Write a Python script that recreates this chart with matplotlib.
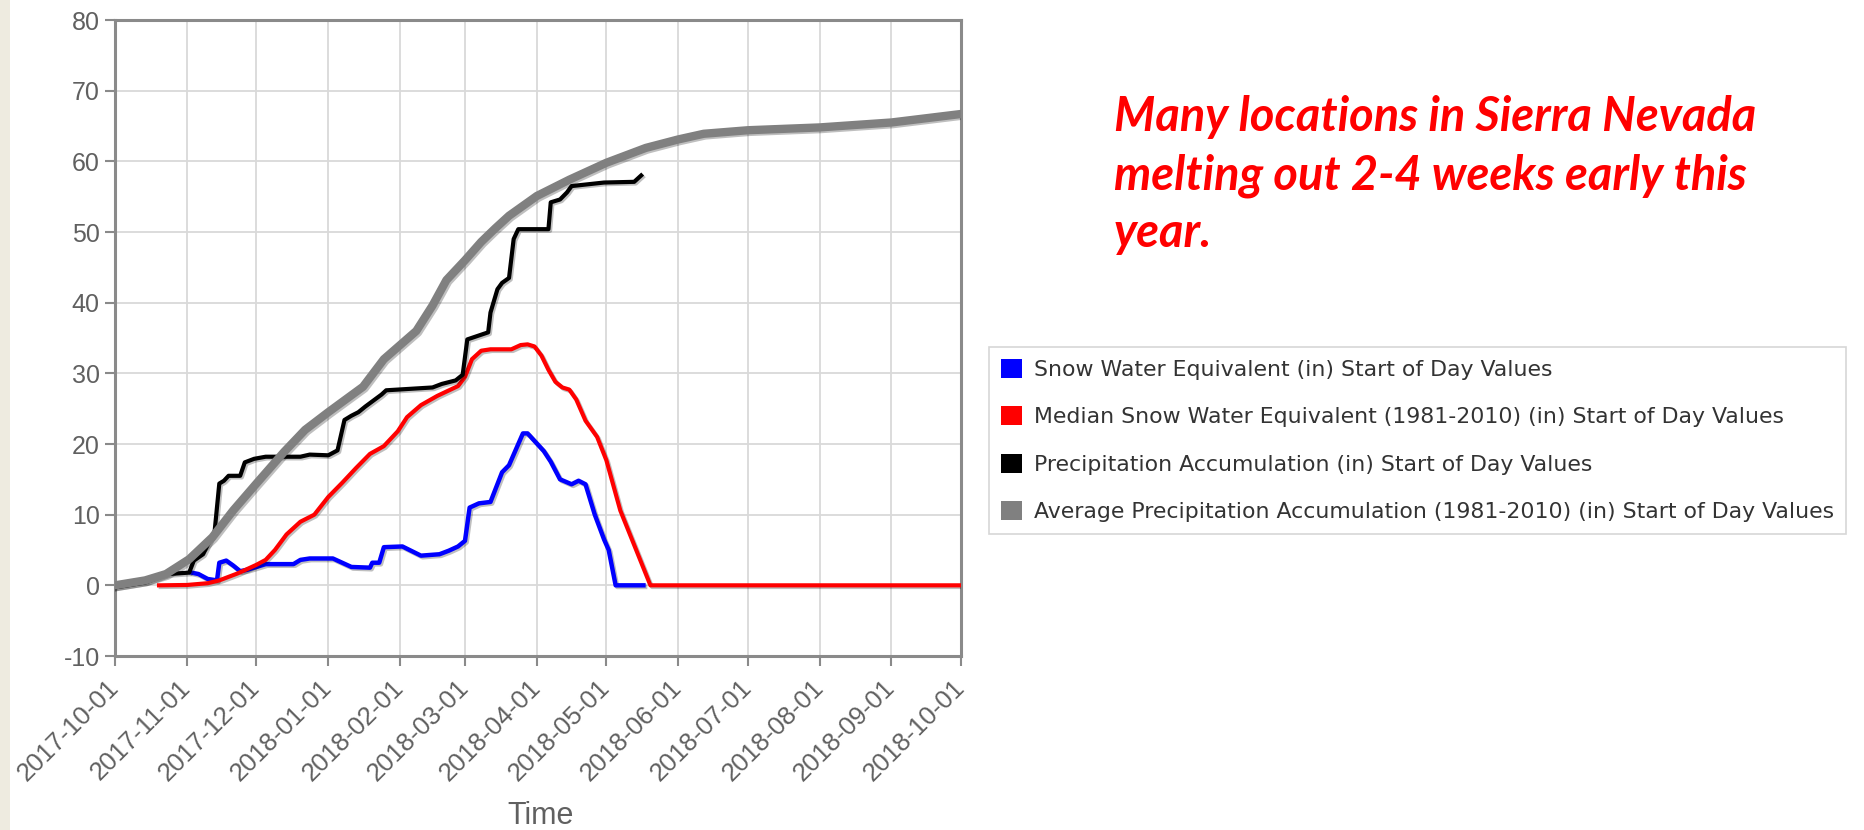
import numpy as np
import matplotlib.pyplot as plt
import matplotlib.dates as mdates
import matplotlib.patheffects as pe
from matplotlib.patches import Patch, Rectangle

plt.rcParams['axes.unicode_minus'] = False

# snow water equivalent, this year
swe_dates = ['2017-11-03', '2017-11-06', '2017-11-10', '2017-11-14', '2017-11-15', '2017-11-18',
             '2017-11-21', '2017-11-24', '2017-11-27', '2017-12-05', '2017-12-17', '2017-12-20',
             '2017-12-24', '2018-01-03', '2018-01-11', '2018-01-19', '2018-01-20', '2018-01-23',
             '2018-01-25', '2018-02-02', '2018-02-10', '2018-02-18', '2018-02-22', '2018-02-26',
             '2018-03-01', '2018-03-03', '2018-03-07', '2018-03-12', '2018-03-17', '2018-03-20',
             '2018-03-26', '2018-03-28', '2018-04-04', '2018-04-07', '2018-04-11', '2018-04-16',
             '2018-04-19', '2018-04-22', '2018-04-26', '2018-04-30', '2018-05-02', '2018-05-05',
             '2018-05-17']
swe_vals = [1.8, 1.6, 0.9, 0.7, 3.2, 3.5,
            2.8, 2.0, 2.2, 3.0, 3.0, 3.6,
            3.8, 3.8, 2.6, 2.5, 3.2, 3.2,
            5.4, 5.5, 4.2, 4.4, 4.9, 5.5,
            6.3, 11.0, 11.6, 11.8, 16.0, 17.0,
            21.5, 21.5, 19.0, 17.5, 15.0, 14.3,
            14.8, 14.3, 10.0, 6.5, 5.0, 0.0,
            0.0]

# median snow water equivalent 1981-2010
med_dates = ['2017-10-20', '2017-11-01', '2017-11-10', '2017-11-15', '2017-11-23', '2017-12-01',
             '2017-12-05', '2017-12-09', '2017-12-14', '2017-12-20', '2017-12-26', '2018-01-01',
             '2018-01-07', '2018-01-13', '2018-01-19', '2018-01-25', '2018-01-31', '2018-02-04',
             '2018-02-10', '2018-02-17', '2018-02-26', '2018-03-01', '2018-03-04', '2018-03-08',
             '2018-03-12', '2018-03-21', '2018-03-25', '2018-03-28', '2018-03-31', '2018-04-03',
             '2018-04-06', '2018-04-09', '2018-04-12', '2018-04-15', '2018-04-18', '2018-04-22',
             '2018-04-27', '2018-05-01', '2018-05-07', '2018-05-20', '2018-10-01']
med_vals = [0.0, 0.05, 0.3, 0.7, 1.7, 2.9,
            3.6, 5.0, 7.2, 9.0, 10.0, 12.5,
            14.5, 16.6, 18.6, 19.7, 21.8, 23.8,
            25.5, 26.8, 28.2, 29.5, 32.0, 33.2,
            33.4, 33.4, 34.0, 34.1, 33.8, 32.5,
            30.5, 28.8, 28.0, 27.7, 26.3, 23.3,
            21.0, 17.7, 10.6, 0.0, 0.0]

# precipitation accumulation, this year
pcp_dates = ['2017-10-01', '2017-10-14', '2017-10-20', '2017-10-24', '2017-11-02', '2017-11-04',
             '2017-11-08', '2017-11-13', '2017-11-15', '2017-11-17', '2017-11-19', '2017-11-24',
             '2017-11-26', '2017-11-30', '2017-12-05', '2017-12-20', '2017-12-24', '2018-01-01',
             '2018-01-05', '2018-01-08', '2018-01-11', '2018-01-14', '2018-01-17', '2018-01-24',
             '2018-01-26', '2018-02-15', '2018-02-19', '2018-02-25', '2018-02-28', '2018-03-02',
             '2018-03-11', '2018-03-12', '2018-03-15', '2018-03-17', '2018-03-20', '2018-03-22',
             '2018-03-24', '2018-04-06', '2018-04-07', '2018-04-11', '2018-04-14', '2018-04-16',
             '2018-04-30', '2018-05-13', '2018-05-16']
pcp_vals = [-0.3, 0.4, 1.1, 1.6, 1.8, 3.5,
            4.4, 7.7, 14.4, 14.8, 15.5, 15.5,
            17.4, 17.9, 18.2, 18.2, 18.5, 18.4,
            19.1, 23.4, 24.0, 24.5, 25.3, 27.0,
            27.6, 28.0, 28.5, 29.0, 29.8, 34.8,
            35.8, 38.6, 41.9, 42.8, 43.5, 49.0,
            50.4, 50.4, 54.2, 54.6, 55.6, 56.5,
            57.0, 57.1, 58.0]

# average precipitation accumulation 1981-2010
avg_dates = ['2017-10-01', '2017-10-14', '2017-10-23', '2017-11-02', '2017-11-12', '2017-11-21',
             '2017-12-01', '2017-12-13', '2017-12-22', '2018-01-01', '2018-01-16', '2018-01-25',
             '2018-02-01', '2018-02-08', '2018-02-15', '2018-02-21', '2018-03-01', '2018-03-08',
             '2018-03-14', '2018-03-20', '2018-04-01', '2018-04-15', '2018-05-01', '2018-05-18',
             '2018-06-01', '2018-06-12', '2018-07-01', '2018-08-01', '2018-09-01', '2018-10-01']
avg_vals = [0.0, 0.7, 1.6, 3.7, 6.8, 10.6,
            14.4, 18.9, 22.0, 24.5, 28.1, 32.0,
            34.0, 36.0, 39.6, 43.2, 46.0, 48.6,
            50.5, 52.3, 55.1, 57.4, 59.8, 61.9,
            63.1, 63.9, 64.4, 64.8, 65.5, 66.7]

labels = ['Snow Water Equivalent (in) Start of Day Values',
          'Median Snow Water Equivalent (1981-2010) (in) Start of Day Values',
          'Precipitation Accumulation (in) Start of Day Values',
          'Average Precipitation Accumulation (1981-2010) (in) Start of Day Values']
colors = ['#0000ff', '#ff0000', '#000000', '#808080']
note = ['Many locations in Sierra Nevada',
        'melting out 2-4 weeks early this',
        'year.']

W, H = 1864, 830
fig = plt.figure(figsize=(W / 100, H / 100), dpi=100)
fig.patches.append(Rectangle((0, 0), 10 / W, 1, transform=fig.transFigure,
                             facecolor='#eeebe0', edgecolor='none'))

ax = fig.add_axes([115 / W, 1 - 656 / H, (961 - 115) / W, (656 - 20) / H])

series = [(swe_dates, swe_vals, 3.2), (med_dates, med_vals, 3.0),
          (pcp_dates, pcp_vals, 3.0), (avg_dates, avg_vals, 6.0)]
shadow = [pe.SimpleLineShadow(offset=(1.2, -1.2), alpha=0.25), pe.Normal()]
for i, (d, v, lw) in enumerate(series):
    ax.plot(np.array(d, dtype='datetime64[D]'), v, color=colors[i], lw=lw,
            solid_joinstyle='round', zorder=3 + i, path_effects=shadow)

ax.set_xlim(np.datetime64('2017-10-01'), np.datetime64('2018-10-01'))
ax.set_ylim(-10, 80)
ax.set_yticks(range(-10, 81, 10))
ax.xaxis.set_major_locator(mdates.MonthLocator())
ax.xaxis.set_major_formatter(mdates.DateFormatter('%Y-%m-%d'))

ax.grid(True, color='#d9d9d9', lw=1.3)
ax.set_axisbelow(True)
for s in ax.spines.values():
    s.set_color('#8a8a8a')
    s.set_linewidth(2.2)

tick_font = ['Liberation Sans', 'DejaVu Sans']
ax.tick_params(axis='both', colors='#8a8a8a', length=7, width=1.5, labelcolor='#606060')
for lab in ax.get_yticklabels():
    lab.set_family(tick_font)
    lab.set_fontsize(18)
for lab in ax.get_xticklabels():
    lab.set_family(tick_font)
    lab.set_fontsize(18.5)
    lab.set_rotation(45)
    lab.set_ha('right')
    lab.set_va('center')
    lab.set_rotation_mode('anchor')
ax.tick_params(axis='x', pad=13)
ax.tick_params(axis='y', pad=4)

fig.text(541 / W, 1 - 816 / H, 'Time', ha='center', va='center', fontsize=22,
         color='#606060', family=tick_font)

handles = [Patch(facecolor=c, edgecolor='none') for c in colors]
leg = fig.legend(handles, labels, loc='upper left', bbox_to_anchor=(989 / W, 1 - 347 / H),
                 frameon=True, fancybox=False, edgecolor='#cccccc', fontsize=15.8,
                 handlelength=0.95, handleheight=0.95, handletextpad=0.55,
                 labelspacing=1.2, borderpad=0.55, borderaxespad=0)
leg.get_frame().set_linewidth(1.2)
for t in leg.get_texts():
    t.set_color('#333333')

base = [131, 190, 247]
for line, y in zip(note, base):
    fig.text(1114 / W, 1 - y / H, line, ha='left', va='baseline', color='#ff0000',
             fontsize=33.8, fontweight='bold', fontstyle='italic', family=['Lato', 'DejaVu Sans'])

fig.savefig('out.png', dpi=100)
